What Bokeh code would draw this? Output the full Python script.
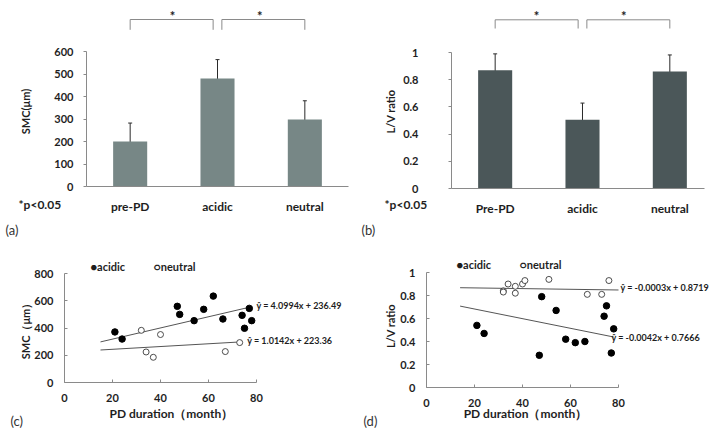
import math
from bokeh.plotting import figure
from bokeh.layouts import column, row
from bokeh.models import Range1d, FixedTicker, Label, Whisker, ColumnDataSource, TeeHead
from bokeh.embed import file_html
from bokeh.resources import INLINE

# ---------------- data ----------------
smc_categories = ["pre-PD", "acidic", "neutral"]
smc_means = [200, 480, 298]
smc_errs = [82, 84, 83]
smc_ticks = [0, 100, 200, 300, 400, 500, 600]

lv_categories = ["Pre-PD", "acidic", "neutral"]
lv_means = [0.87, 0.505, 0.86]
lv_errs = [0.12, 0.123, 0.122]
lv_ticks = [0, 0.2, 0.4, 0.6, 0.8, 1]
lv_tick_labels = ["0", "0.2", "0.4", "0.6", "0.8", "1"]

duration_ticks = [0, 20, 40, 60, 80]
smc_scatter_ticks = [0, 200, 400, 600, 800]

smc_acidic_x = [21, 24, 47, 48, 54, 58, 62, 66, 74, 75, 77, 78]
smc_acidic_y = [371, 319, 559, 500, 454, 537, 634, 466, 493, 398, 544, 454]
smc_neutral_x = [32, 34, 37, 40, 67, 73]
smc_neutral_y = [383, 224, 185, 352, 227, 293]

lv_acidic_x = [21, 24, 47, 48, 54, 58, 62, 66, 74, 75, 77, 78]
lv_acidic_y = [0.54, 0.47, 0.28, 0.79, 0.67, 0.42, 0.39, 0.40, 0.62, 0.71, 0.30, 0.51]
lv_neutral_x = [32, 32, 34, 37, 37, 40, 41, 51, 67, 73, 76]
lv_neutral_y = [0.84, 0.83, 0.90, 0.88, 0.82, 0.90, 0.93, 0.94, 0.81, 0.81, 0.93]

# regression lines: (slope, intercept, x start, x end)
smc_acidic_fit = (4.0994, 236.49, 15, 77)
smc_neutral_fit = (1.0142, 223.36, 15, 73)
lv_neutral_fit = (-0.0003, 0.8719, 14, 80)
lv_acidic_fit = (-0.0042, 0.7666, 14, 78)

# ---------------- style ----------------
FONT = "Lato"
TEXT = "#1e1e1e"
AXIS = "#8a8a8a"
BAR_A = "#778786"
BAR_B = "#4b5759"

# Panel geometry: page-pixel position of two reference values on each axis,
# plus the page origin and size of the figure.
GA = dict(ox=0, oy=0, w=356, h=216, xa=-0.5, pxa=86, xb=2.5, pxb=348,
          ya=0, pya=186, yb=600, pyb=51)
GB = dict(ox=356, oy=0, w=356, h=216, xa=-0.5, pxa=451, xb=2.5, pxb=451 + 3 * 87.33,
          ya=0, pya=188, yb=1, pyb=52)
GC = dict(ox=0, oy=216, w=356, h=216, xa=0, pxa=64, xb=80, pxb=256,
          ya=0, pya=382, yb=800, pyb=273)
GD = dict(ox=356, oy=216, w=356, h=216, xa=0, pxa=426, xb=80, pxb=618,
          ya=0, pya=387, yb=1, pyb=272)


def at(g, ix, iy):
    x = g["xa"] + (ix - g["pxa"]) / (g["pxb"] - g["pxa"]) * (g["xb"] - g["xa"])
    y = g["ya"] + (iy - g["pya"]) / (g["pyb"] - g["pya"]) * (g["yb"] - g["ya"])
    return x, y


def make_fig(g):
    x0, y1 = at(g, g["ox"], g["oy"])
    x1, y0 = at(g, g["ox"] + g["w"], g["oy"] + g["h"])
    p = figure(width=g["w"], height=g["h"], x_range=Range1d(x0, x1), y_range=Range1d(y0, y1),
               output_backend="svg", toolbar_location=None,
               min_border_left=0, min_border_right=0, min_border_top=0, min_border_bottom=0)
    p.outline_line_color = None
    p.grid.visible = False
    p.xaxis.fixed_location = g["ya"]
    p.yaxis.fixed_location = g["xa"]
    for ax in (p.xaxis[0], p.yaxis[0]):
        ax.axis_line_color = AXIS
        ax.major_tick_line_color = AXIS
        ax.minor_tick_line_color = None
        ax.major_label_text_font = FONT
        ax.major_label_text_font_style = "bold"
        ax.major_label_text_font_size = "11px"
        ax.major_label_text_color = TEXT
    return p


def text(p, g, s, ix, iy, size="11px", align="left", baseline="middle", bold=True,
         angle=0.0, color=TEXT):
    x, y = at(g, ix, iy)
    p.add_layout(Label(x=x, y=y, text=s, text_font=FONT, text_font_size=size,
                       text_font_style="bold" if bold else "normal",
                       text_align=align, text_baseline=baseline, text_color=color,
                       angle=angle))


def bar_panel(g, cats, means, errs, ticks, tick_labels, color, x_end,
              ytitle, yt_x, ytick_standoff, bracket_y, star_iy, note_x, star_x):
    p = make_fig(g)
    xs = list(range(len(cats)))
    p.vbar(x=xs, top=means, width=0.39, fill_color=color, line_color=None)
    src = ColumnDataSource(dict(x=xs, lo=[m - e for m, e in zip(means, errs)],
                                hi=[m + e for m, e in zip(means, errs)]))
    p.add_layout(Whisker(base="x", lower="lo", upper="hi", source=src,
                         line_color="#2a2a2a", line_width=1,
                         upper_head=TeeHead(size=4, line_color="#2a2a2a", line_width=1),
                         lower_head=TeeHead(size=4, line_color="#2a2a2a", line_width=1)))
    p.yaxis.ticker = FixedTicker(ticks=ticks)
    p.yaxis.major_label_overrides = {t: l for t, l in zip(ticks, tick_labels)}
    p.yaxis.bounds = (ticks[0], ticks[-1])
    p.yaxis.major_tick_in = 0
    p.yaxis.major_tick_out = 3
    p.yaxis.major_label_standoff = ytick_standoff
    p.xaxis.ticker = FixedTicker(ticks=xs)
    p.xaxis.major_label_overrides = {i: c for i, c in zip(xs, cats)}
    p.xaxis.major_tick_line_color = None
    p.xaxis.major_tick_in = 0
    p.xaxis.major_tick_out = 0
    p.xaxis.bounds = (g["xa"], x_end)
    p.xaxis.major_label_standoff = 12
    p.xaxis.major_label_text_font_size = "12px"
    top_y = at(g, 0, bracket_y[0])[1]
    low_y = at(g, 0, bracket_y[1])[1]
    p.multi_line(xs=[[0, 0, 0.95, 0.95], [1.05, 1.05, 2, 2]],
                 ys=[[low_y, top_y, top_y, low_y], [low_y, top_y, top_y, low_y]],
                 line_color=AXIS, line_width=1)
    for sx in star_x:
        text(p, g, "*", sx, star_iy, size="13px", align="center", baseline="alphabetic")
    text(p, g, ytitle, yt_x, 111, size="11px", align="center", angle=math.pi / 2)
    text(p, g, "*p<0.05", note_x, 204, size="12px")
    return p


pa = bar_panel(GA, smc_categories, smc_means, smc_errs, smc_ticks,
               [str(t) for t in smc_ticks], BAR_A, 2.5, "SMC(μm)", 25, 10,
               (19, 29.3), 15, 18, (172, 259.3))
pb = bar_panel(GB, lv_categories, lv_means, lv_errs, lv_ticks,
               lv_tick_labels, BAR_B, at(GB, 704, 0)[0], "L/V ratio", 389.5, 30,
               (19.3, 28), 15, 384, (536, 623.3))


def scatter_panel(g, yticks, ylabels, ax_x, ax_y, nx, ny, afit, nfit,
                  ytitle, yt_x, yt_y, xt_x, legend_pos, eq_a, eq_n, letters):
    p = make_fig(g)
    p.xaxis.ticker = FixedTicker(ticks=duration_ticks)
    p.xaxis.bounds = (duration_ticks[0], duration_ticks[-1])
    p.yaxis.ticker = FixedTicker(ticks=yticks)
    p.yaxis.bounds = (yticks[0], yticks[-1])
    p.yaxis.major_label_overrides = {t: l for t, l in zip(yticks, ylabels)}
    for ax in (p.xaxis[0], p.yaxis[0]):
        ax.major_tick_in = 3
        ax.major_tick_out = 0
    p.yaxis.major_label_standoff = 11
    p.xaxis.major_label_standoff = 11
    for slope, icpt, xa, xb in (afit, nfit):
        p.line(x=[xa, xb], y=[slope * xa + icpt, slope * xb + icpt],
               line_color="#555555", line_width=1)
    p.scatter(x=nx, y=ny, size=6, marker="circle", fill_color="white",
              line_color="#3a3a3a", line_width=0.9)
    p.scatter(x=ax_x, y=ax_y, size=6.5, marker="circle", fill_color="black",
              line_color="black")
    text(p, g, ytitle, yt_x, yt_y, size="11px", align="center", angle=math.pi / 2)
    text(p, g, "PD duration（month）", xt_x, 413.3, size="12px", align="center")
    (lax, lay), (lnx, lny) = legend_pos
    text(p, g, "●acidic", lax, lay, size="11px")
    text(p, g, "○neutral", lnx, lny, size="11px")
    for s, ix, iy in (eq_a, eq_n):
        text(p, g, s, ix, iy, size="9px")
    for s, ix, iy in letters:
        text(p, g, s, ix, iy, size="13px", bold=False, color="#333333")
    return p


pc = scatter_panel(GC, smc_scatter_ticks, [str(t) for t in smc_scatter_ticks],
                   smc_acidic_x, smc_acidic_y, smc_neutral_x, smc_neutral_y,
                   smc_acidic_fit, smc_neutral_fit, "SMC（μm）", 25.3, 328, 170.8,
                   ((90, 265.7), (153, 265.7)),
                   ("ŷ  = 4.0994x + 236.49", 256, 305),
                   ("ŷ = 1.0142x + 223.36", 246.7, 340),
                   [("(a)", 5, 229), ("(c)", 10, 420)])
pd_ = scatter_panel(GD, lv_ticks, lv_tick_labels,
                    lv_acidic_x, lv_acidic_y, lv_neutral_x, lv_neutral_y,
                    lv_acidic_fit, lv_neutral_fit, "L/V ratio", 389.5, 325.5, 525,
                    ((456, 264.3), (519, 264.3)),
                    ("ŷ = -0.0042x + 0.7666", 611, 336.7),
                    ("ŷ = -0.0003x + 0.8719", 620, 286.7),
                    [("(b)", 361, 229), ("(d)", 363, 420)])

layout = column(row(pa, pb), row(pc, pd_))
open("out.html", "w").write(file_html(layout, INLINE))
